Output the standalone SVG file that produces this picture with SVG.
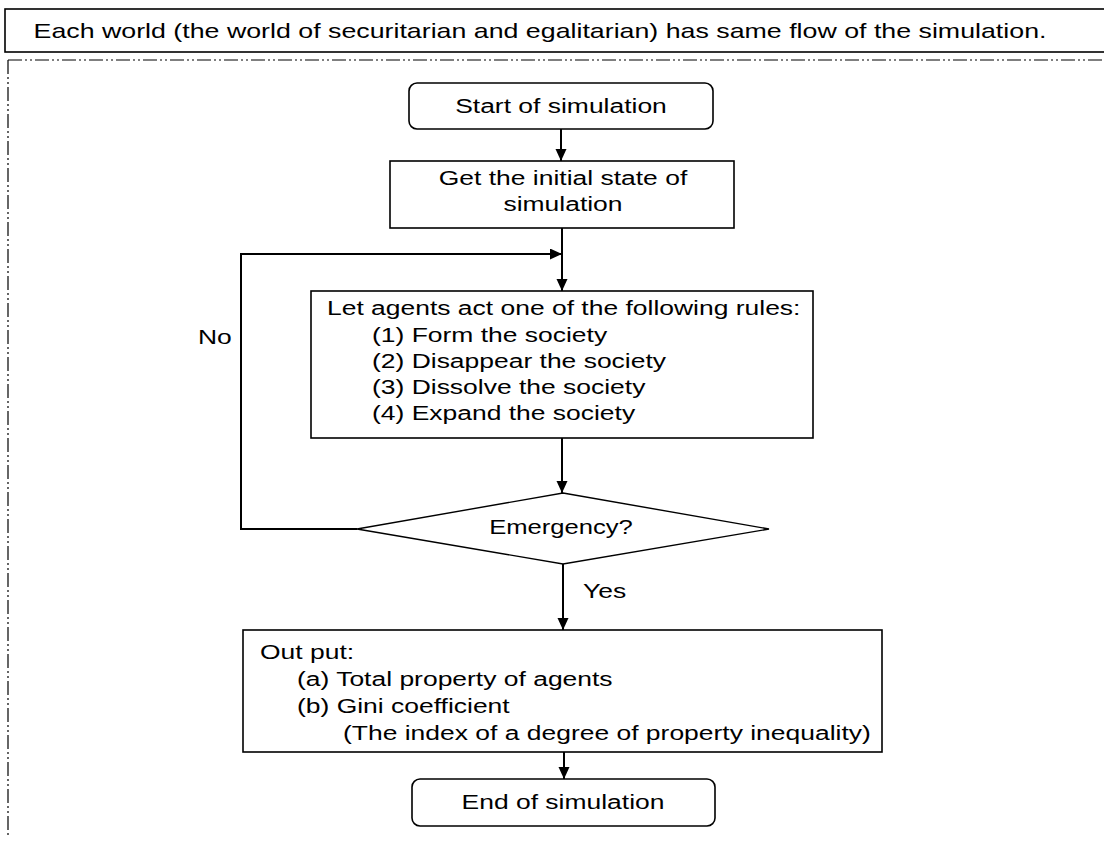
<svg xmlns="http://www.w3.org/2000/svg" width="1104" height="841" viewBox="0 0 1104 841">
<style>
.t{font-family:"Liberation Sans",Arial,sans-serif;font-size:21px;fill:#000}
.box{fill:#fff;stroke:#000;stroke-width:1.6}
.con{fill:none;stroke:#000;stroke-width:2}
.dd{fill:none;stroke:#000;stroke-width:1.2;stroke-dasharray:14 3 2 3 2 3}
</style>
<defs>
<marker id="ah" markerUnits="userSpaceOnUse" markerWidth="12" markerHeight="12" refX="12" refY="5.5" orient="auto">
<path d="M0,0 L12,5.5 L0,11 z" fill="#000"/>
</marker>
</defs>
<rect width="1104" height="841" fill="#fff"/>
<g id="header">
<rect class="box" x="5" y="9" width="1110" height="43"/>
<text class="t" transform="translate(540 38) scale(1.275 1)" text-anchor="middle">Each world (the world of securitarian and egalitarian) has same flow of the simulation.</text>
</g>
<g id="frame">
<line class="dd" x1="8" y1="60" x2="1104" y2="60"/>
<line class="dd" x1="8" y1="60" x2="8" y2="836"/>
</g>
<g id="connectors">
<line class="con" x1="561" y1="129" x2="561" y2="161" marker-end="url(#ah)"/>
<line class="con" x1="562" y1="228" x2="562" y2="291" marker-end="url(#ah)"/>
<polyline class="con" points="357,529 241,529 241,254 562,254" marker-end="url(#ah)"/>
<line class="con" x1="562" y1="438" x2="562" y2="493" marker-end="url(#ah)"/>
<line class="con" x1="563" y1="564" x2="563" y2="630" marker-end="url(#ah)"/>
<line class="con" x1="564" y1="752" x2="564" y2="779" marker-end="url(#ah)"/>
<text class="t" transform="translate(198 344) scale(1.26 1)">No</text>
<text class="t" transform="translate(583 598) scale(1.26 1)">Yes</text>
</g>
<g id="start">
<rect class="box" x="409" y="83" width="304" height="46" rx="8"/>
<text class="t" transform="translate(561 113) scale(1.26 1)" text-anchor="middle">Start of simulation</text>
</g>
<g id="init">
<rect class="box" x="390" y="161" width="344" height="67"/>
<text class="t" transform="translate(563 185) scale(1.26 1)" text-anchor="middle">Get the initial state of</text>
<text class="t" transform="translate(563 211) scale(1.26 1)" text-anchor="middle">simulation</text>
</g>
<g id="rules">
<rect class="box" x="311" y="291" width="502" height="147"/>
<text class="t" transform="translate(327 315) scale(1.26 1)">Let agents act one of the following rules:</text>
<text class="t" transform="translate(372 342) scale(1.26 1)">(1) Form the society</text>
<text class="t" transform="translate(372 368) scale(1.26 1)">(2) Disappear the society</text>
<text class="t" transform="translate(372 394) scale(1.26 1)">(3) Dissolve the society</text>
<text class="t" transform="translate(372 420) scale(1.26 1)">(4) Expand the society</text>
</g>
<g id="decision">
<polygon points="563,493 769,529 563,564 357,529" fill="#fff" stroke="#000" stroke-width="1.4"/>
<text class="t" transform="translate(561 534) scale(1.22 1)" text-anchor="middle">Emergency?</text>
</g>
<g id="output">
<rect class="box" x="243" y="630" width="639" height="122"/>
<text class="t" transform="translate(260 659) scale(1.26 1)">Out put:</text>
<text class="t" transform="translate(297 686) scale(1.26 1)">(a) Total property of agents</text>
<text class="t" transform="translate(297 713) scale(1.26 1)">(b) Gini coefficient</text>
<text class="t" transform="translate(343 740) scale(1.26 1)">(The index of a degree of property inequality)</text>
</g>
<g id="end">
<rect class="box" x="412" y="779" width="303" height="47" rx="8"/>
<text class="t" transform="translate(563 809) scale(1.26 1)" text-anchor="middle">End of simulation</text>
</g>
</svg>
